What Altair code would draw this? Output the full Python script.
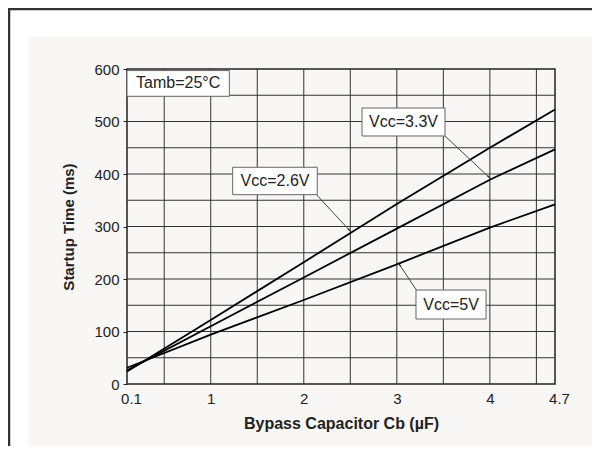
import altair as alt
import pandas as pd

# ---- data ----
cb = [0.1, 1, 2, 3, 4, 4.7]
t_26 = [24, 122, 232, 343, 450, 523]
t_33 = [26, 110, 203, 296, 389, 447]
t_50 = [31, 94, 160, 228, 298, 342]
series_names = ["Vcc=2.6V", "Vcc=3.3V", "Vcc=5V"]

x_tick_values = [0.1, 1, 2, 3, 4, 4.7]
x_grid_values = [0.5, 1, 1.5, 2, 2.5, 3, 3.5, 4, 4.5]
y_tick_values = [0, 100, 200, 300, 400, 500, 600]
y_grid_values = [50, 100, 150, 200, 250, 300, 350, 400, 450, 500, 550]

# annotation boxes (data units)
ann_text = ["Tamb=25°C", "Vcc=3.3V", "Vcc=2.6V", "Vcc=5V"]
ann_x0 = [0.1, 2.626, 1.236, 3.206]
ann_x1 = [1.2, 3.518, 2.145, 3.959]
ann_y0 = [548, 472.4, 360.6, 123.8]
ann_y1 = [597, 525.7, 412.8, 179]

# arrows (data units): start -> tip
arr_x0 = [3.52, 2.14, 3.21]
arr_y0 = [472, 360, 179]
arr_x1 = [3.99, 2.49, 3.03]
arr_y1 = [394, 293, 227]
arr_angle = [133, 138, 326]

FONT = "Liberation Sans"
INK = "#222222"

rows = []
for name, vals in zip(series_names, [t_26, t_33, t_50]):
    for x, y in zip(cb, vals):
        rows.append({"cb": x, "t": y, "series": name})
df = pd.DataFrame(rows)

ann = pd.DataFrame({"text": ann_text, "x0": ann_x0, "x1": ann_x1, "y0": ann_y0, "y1": ann_y1})
ann["xc"] = (ann["x0"] + ann["x1"]) / 2
ann["yc"] = (ann["y0"] + ann["y1"]) / 2
arr = pd.DataFrame({"x0": arr_x0, "y0": arr_y0, "x1": arr_x1, "y1": arr_y1, "angle": arr_angle})

xs = alt.Scale(domain=[0.1, 4.7], nice=False, zero=False)
ys = alt.Scale(domain=[0, 600], nice=False)

# page decoration: white strips + frame lines at top/left
white_top = alt.Chart(pd.DataFrame({"a": [0]})).mark_rect(color="white").encode(
    x=alt.value(-119), x2=alt.value(470), y=alt.value(-61), y2=alt.value(-32))
white_left = alt.Chart(pd.DataFrame({"a": [0]})).mark_rect(color="white").encode(
    x=alt.value(-119), x2=alt.value(-99), y=alt.value(-61), y2=alt.value(380))
border_top = alt.Chart(pd.DataFrame({"a": [0]})).mark_rule(color="#333333", strokeWidth=2.5).encode(
    x=alt.value(-119), x2=alt.value(470), y=alt.value(-60))
border_left = alt.Chart(pd.DataFrame({"a": [0]})).mark_rule(color="#333333", strokeWidth=2.5).encode(
    x=alt.value(-118), y=alt.value(-61), y2=alt.value(380))

vgrid = alt.Chart(pd.DataFrame({"g": x_grid_values})).mark_rule(color="#333333", strokeWidth=1).encode(
    x=alt.X("g:Q", scale=xs))
hgrid = alt.Chart(pd.DataFrame({"g": y_grid_values})).mark_rule(color="#333333", strokeWidth=1).encode(
    y=alt.Y("g:Q", scale=ys))

lines = alt.Chart(df).mark_line(color="black", strokeWidth=1.8).encode(
    x=alt.X("cb:Q", scale=xs,
            axis=alt.Axis(values=x_tick_values, title="Bypass Capacitor Cb (µF)", grid=False,
                          ticks=False, domain=False, labelExpr="datum.value",
                          labelFlush=False,
                          labelOffset={"condition": {"test": "datum.value < 0.5 || datum.value > 4.5",
                                                     "value": 4}, "value": 0},
                          labelPadding=7, titlePadding=9, titleFontSize=16)),
    y=alt.Y("t:Q", scale=ys,
            axis=alt.Axis(values=y_tick_values, title="Startup Time (ms)", grid=False,
                          tickSize=4, tickColor=INK, domain=False,
                          labelPadding=4, titlePadding=17)),
    detail="series:N",
)

boxes = alt.Chart(ann).mark_rect(fill="white", stroke="#666666", strokeWidth=1).encode(
    x=alt.X("x0:Q", scale=xs), x2="x1:Q", y=alt.Y("y0:Q", scale=ys), y2="y1:Q")
texts = alt.Chart(ann).mark_text(font=FONT, fontSize=16, color=INK, baseline="middle", align="center").encode(
    x=alt.X("xc:Q", scale=xs), y=alt.Y("yc:Q", scale=ys), text="text:N")

arrows = alt.Chart(arr).mark_rule(color="#444444", strokeWidth=1).encode(
    x=alt.X("x0:Q", scale=xs), y=alt.Y("y0:Q", scale=ys), x2="x1:Q", y2="y1:Q")
heads = alt.Chart(arr).mark_point(shape="wedge", filled=True, color="#222222", size=40, opacity=1).encode(
    x=alt.X("x1:Q", scale=xs), y=alt.Y("y1:Q", scale=ys), angle=alt.Angle("angle:Q", scale=None))

chart = alt.layer(
    white_top, white_left, border_top, border_left,
    vgrid, hgrid, lines, boxes, texts, arrows, heads
).properties(
    width=428, height=315,
    autosize=alt.AutoSizeParams(type="none"),
    padding={"left": 119, "top": 61, "right": 37, "bottom": 62},
    background="#f8f7f5",
).configure_view(
    stroke="#222222", strokeWidth=1.5
).configure_axis(
    labelFont=FONT, labelFontSize=15, labelColor=INK,
    titleFont=FONT, titleFontSize=15, titleFontWeight="bold", titleColor=INK,
)

chart.save("out.html", embed_options={"renderer": "svg", "actions": False})
